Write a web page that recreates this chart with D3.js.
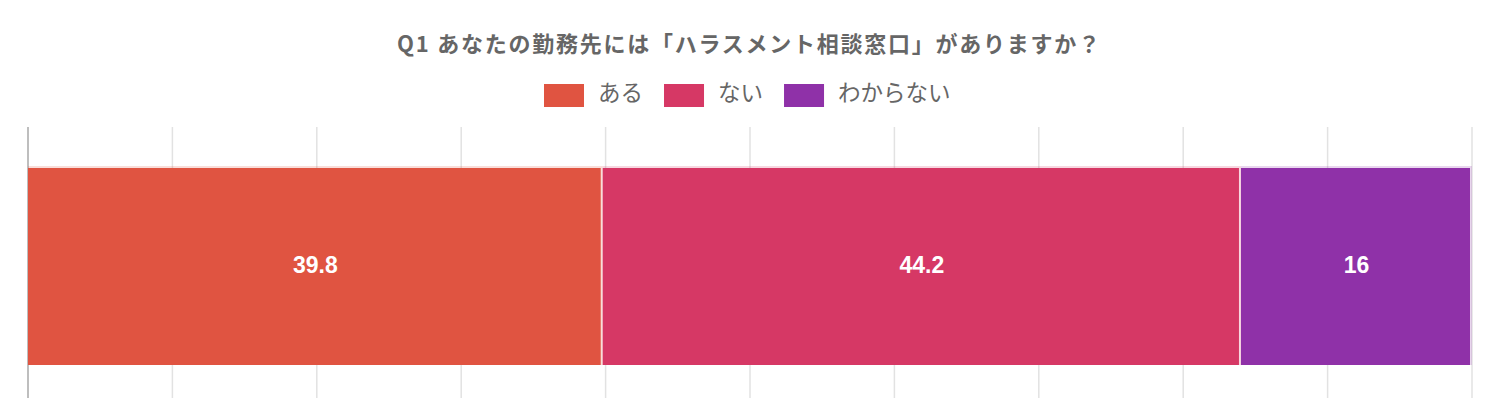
<!DOCTYPE html>
<html>
<head>
<meta charset="utf-8">
<script src="https://cdn.jsdelivr.net/npm/d3@7"></script>
<style>
  body { margin: 0; background: #fff; }
  svg { display: block; font-family: "Noto Sans CJK JP", "Noto Sans", sans-serif; }
</style>
</head>
<body>
<div id="chart"></div>
<script>
// data
var title = "Q1 あなたの勤務先には「ハラスメント相談窓口」がありますか？";
var categories = ["ある", "ない", "わからない"];
var values = [39.8, 44.2, 16];
var colors = ["#e05441", "#d63865", "#8f31a8"];
var ticks = [0, 10, 20, 30, 40, 50, 60, 70, 80, 90, 100];

var width = 1506,
	height = 398;

var margin = { left: 28, right: 34 },
	barTop = 166,
	barBottom = 365;

var svg = d3.select("#chart").append("svg")
	.attr("width", width)
	.attr("height", height);

var x = d3.scaleLinear()
	.domain([0, 100])
	.range([margin.left, width - margin.right]);

// grid lines (bars cover the middle part)
svg.selectAll(".grid")
	.data(ticks)
	.enter()
	.append("line")
	.attr("class", "grid")
	.attr("x1", function (d) { return x(d); })
	.attr("x2", function (d) { return x(d); })
	.attr("y1", 127)
	.attr("y2", height)
	.attr("stroke", function (d, i) { return i === 0 ? "#a8a8a8" : "#e2e2e2"; })
	.attr("stroke-width", 1.5);

// stack values
var segs = [];
var acc = 0;
values.forEach(function (v, i) {
	segs.push({ name: categories[i], value: v, x0: acc, x1: acc + v, color: colors[i] });
	acc += v;
});

var g = svg.selectAll(".seg")
	.data(segs)
	.enter()
	.append("g")
	.attr("class", "seg");

// pale top edge
g.append("rect")
	.attr("x", function (d) { return x(d.x0); })
	.attr("y", barTop)
	.attr("width", function (d) { return x(d.x1) - x(d.x0); })
	.attr("height", barBottom - barTop)
	.attr("fill", function (d) { return d.color; })
	.attr("fill-opacity", 0.2);

g.append("rect")
	.attr("x", function (d) { return x(d.x0); })
	.attr("y", barTop + 2)
	.attr("width", function (d) { return x(d.x1) - x(d.x0) - 2; })
	.attr("height", barBottom - barTop - 2)
	.attr("fill", function (d) { return d.color; });

// value labels
g.append("text")
	.attr("x", function (d) { return (x(d.x0) + x(d.x1)) / 2; })
	.attr("y", (barTop + barBottom) / 2 + 1)
	.attr("text-anchor", "middle")
	.attr("dominant-baseline", "middle")
	.attr("fill", "#fff")
	.attr("font-weight", "bold")
	.attr("font-size", 23)
	.attr("font-family", "Liberation Sans, Arial, sans-serif")
	.text(function (d) { return d.value; });

// title
svg.append("text")
	.attr("x", 397)
	.attr("y", 46)
	.attr("dominant-baseline", "middle")
	.attr("fill", "#666")
	.attr("font-weight", "bold")
	.attr("font-size", 22)
	.attr("textLength", 703)
	.attr("lengthAdjust", "spacing")
	.text(title);

// legend
var legend = svg.append("g").attr("transform", "translate(544,0)");
var lx = 0;
categories.forEach(function (c, i) {
	var item = legend.append("g").attr("transform", "translate(" + lx + ",0)");
	item.append("rect")
		.attr("x", 0)
		.attr("y", 84)
		.attr("width", 40)
		.attr("height", 23)
		.attr("fill", colors[i]);
	var t = item.append("text")
		.attr("x", 54)
		.attr("y", 95)
		.attr("dominant-baseline", "middle")
		.attr("fill", "#666")
		.attr("font-size", 22.5)
		.text(c);
	lx += 54 + t.node().getComputedTextLength() + 21;
});
</script>
</body>
</html>
